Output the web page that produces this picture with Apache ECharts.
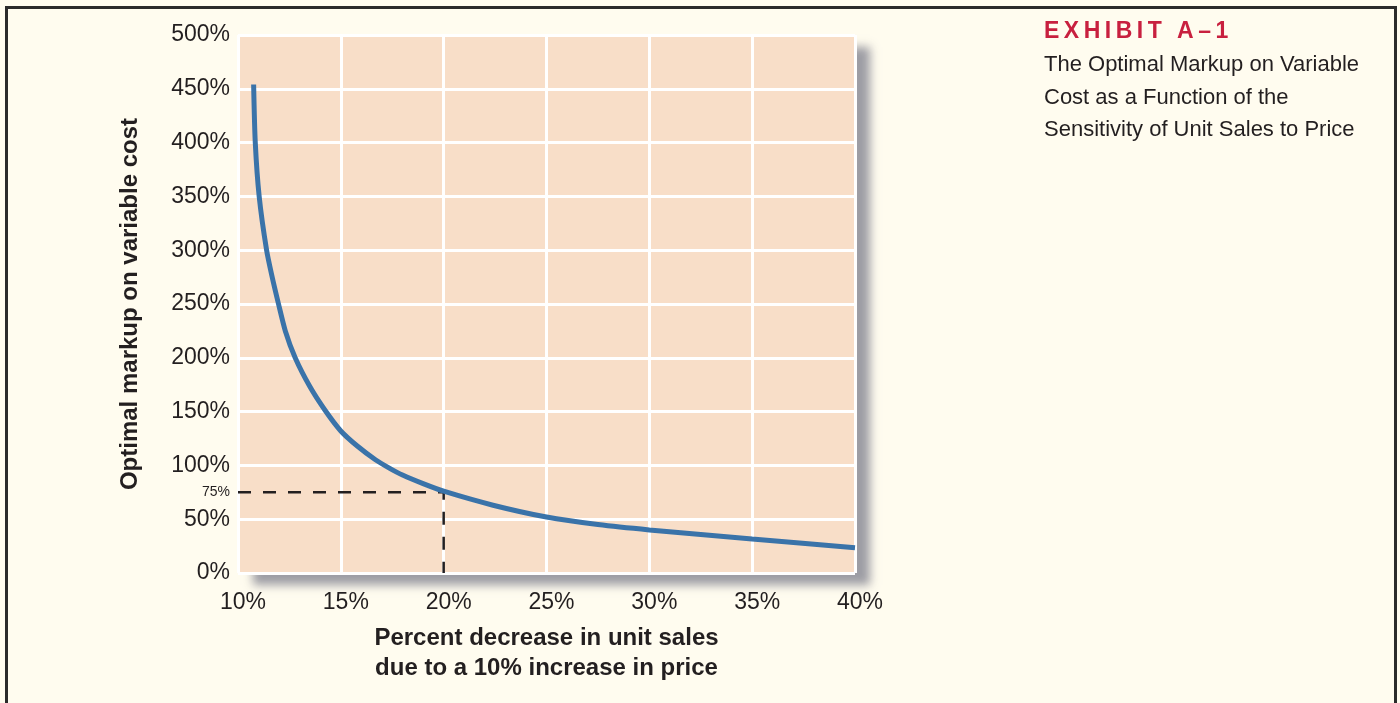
<!DOCTYPE html>
<html>
<head>
<meta charset="utf-8">
<script src="https://cdn.jsdelivr.net/npm/echarts@6/dist/echarts.min.js"></script>
<style>
html,body{margin:0;padding:0;background:#FFFCEF;}
#c{width:1400px;height:703px;}
</style>
</head>
<body>
<div id="c"></div>
<script>
// Data
const salesDecrease = [10.76, 10.84, 11.03, 11.39, 11.65, 11.97, 12.3, 12.78, 13.5, 14.24, 15.0, 15.8, 16.7, 17.4, 18.0, 19.0, 20.0, 22.4, 25.0, 27.5, 30.0, 35.0, 40.0];
const optimalMarkup = [454, 400, 350, 300, 276, 250, 225, 200, 173, 151, 132, 118, 105, 97, 91, 83, 76, 63, 52, 45, 40, 31.6, 23.5];
const guideX = [10, 20, 20];
const guideY = [75, 75, 0];
const guideLabel = '75%';
const xTicks = {min: 10, max: 40, interval: 5};
const yTicks = {min: 0, max: 500, interval: 50};
const exhibitTitle = 'EXHIBIT A\u20131';
const exhibitSubtitle = ['The Optimal Markup on Variable', 'Cost as a Function of the', 'Sensitivity of Unit Sales to Price'];
const xAxisTitle = 'Percent decrease in unit sales\ndue to a 10% increase in price';
const yAxisTitle = 'Optimal markup on variable cost';

const curve = salesDecrease.map((x, i) => [x, optimalMarkup[i]]);
const guide = guideX.map((x, i) => [x, guideY[i]]);

// letter-spaced title via rich text fragments
const titleRich = exhibitTitle.split('').map(ch => '{l|' + ch + '}').join('');

const chart = echarts.init(document.getElementById('c'));
const textColor = '#231f20';
chart.setOption({
  backgroundColor: '#FFFCEF',
  animation: false,
  grid: {
    left: 238, right: 545, top: 35, bottom: 130,
    show: true, backgroundColor: '#F8DEC8', borderWidth: 0,
    shadowColor: 'rgba(140,140,150,0.85)', shadowBlur: 9, shadowOffsetX: 15, shadowOffsetY: 12
  },
  xAxis: {
    type: 'value', min: xTicks.min, max: xTicks.max, interval: xTicks.interval,
    axisLine: {show: false}, axisTick: {show: false},
    splitLine: {show: true, lineStyle: {color: '#ffffff', width: 3}},
    axisLabel: {formatter: '{value}%', color: textColor, fontSize: 23, fontFamily: 'Liberation Sans', margin: 18, padding: [0, 0, 0, 10]},
    name: xAxisTitle, nameLocation: 'middle', nameGap: 50,
    nameTextStyle: {color: textColor, fontSize: 24, fontWeight: 'bold', fontFamily: 'Liberation Sans', lineHeight: 30}
  },
  yAxis: {
    type: 'value', min: yTicks.min, max: yTicks.max, interval: yTicks.interval,
    axisLine: {show: false}, axisTick: {show: false},
    splitLine: {show: true, lineStyle: {color: '#ffffff', width: 3}},
    axisLabel: {formatter: '{value}%', color: textColor, fontSize: 23, fontFamily: 'Liberation Sans', margin: 8},
    name: yAxisTitle, nameLocation: 'middle', nameGap: 96,
    nameTextStyle: {color: textColor, fontSize: 24, fontWeight: 'bold', fontFamily: 'Liberation Sans'}
  },
  series: [
    {
      type: 'line', data: guide, symbol: 'none', silent: true, z: 2,
      lineStyle: {color: '#231f20', width: 2.5, type: [13, 12]},
      markPoint: {
        symbol: 'rect', symbolSize: 0,
        data: [{coord: guide[0], value: guideLabel}],
        label: {show: true, formatter: guideLabel, position: 'left', distance: 8, color: textColor, fontSize: 14, fontFamily: 'Liberation Sans'}
      }
    },
    {
      type: 'line', data: curve, symbol: 'none', smooth: 0.25, z: 3,
      lineStyle: {color: '#3A73A9', width: 5}
    }
  ],
  graphic: [
    {type: 'rect', left: 4, top: 5, shape: {width: 1389, height: 720}, style: {fill: 'none', stroke: '#2b2b2b', lineWidth: 3}, silent: true},
    {type: 'text', left: 1044, top: 20, style: {text: titleRich, rich: {l: {fill: '#C8203F', font: 'bold 23px "Liberation Sans"', padding: [0, 4.5, 0, 0]}}}},
    {type: 'text', left: 1044, top: 49, style: {text: exhibitSubtitle.join('\n'), fill: textColor, font: '22px "Liberation Sans"', lineHeight: 32.5}}
  ]
});
</script>
</body>
</html>
